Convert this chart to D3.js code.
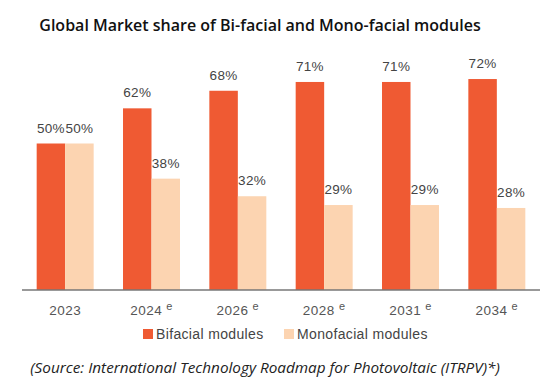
<!DOCTYPE html>
<html>
<head>
<meta charset="utf-8">
<script src="https://cdn.jsdelivr.net/npm/d3@7"></script>
<style>
  body { margin: 0; background: #fff; }
  svg { display: block; }
</style>
</head>
<body>
<div id="chart"></div>
<script>
const years = ['2023', '2024', '2026', '2028', '2031', '2034'];
const estimated = [false, true, true, true, true, true];
const bifacial = [50, 62, 68, 71, 71, 72];
const monofacial = [50, 38, 32, 29, 29, 28];
const seriesNames = ['Bifacial modules', 'Monofacial modules'];
const colors = ['#ef5a33', '#fcd4b1'];

const width = 559, height = 385;
const svg = d3.select('#chart').append('svg')
  .attr('width', width).attr('height', height);

svg.append('text')
  .attr('x', 260).attr('y', 31)
  .attr('text-anchor', 'middle')
  .attr('font-family', 'Open Sans, sans-serif')
  .attr('font-weight', 600)
  .attr('font-size', 16)
  .attr('fill', '#111')
  .text('Global Market share of Bi-facial and Mono-facial modules');

const x0 = d3.scaleBand().domain(years).range([22, 540])
  .paddingInner(0.34).paddingOuter(0.17);
const x1 = d3.scaleBand().domain(seriesNames).range([0, x0.bandwidth()]);
const y = d3.scaleLinear().domain([0, 100]).range([290, -3]);

const rows = years.map((yr, i) => ({year: yr, values: [bifacial[i], monofacial[i]]}));

const groups = svg.append('g').selectAll('g').data(rows).join('g')
  .attr('transform', d => `translate(${x0(d.year)},0)`);

groups.selectAll('rect').data(d => d.values.map((v, k) => ({k, v}))).join('rect')
  .attr('x', d => x1(seriesNames[d.k]))
  .attr('y', d => y(d.v))
  .attr('width', x1.bandwidth())
  .attr('height', d => y(0) - y(d.v))
  .attr('fill', d => colors[d.k]);

groups.selectAll('text.val').data(d => d.values.map((v, k) => ({k, v}))).join('text')
  .attr('class', 'val')
  .attr('x', d => x1(seriesNames[d.k]) + x1.bandwidth() / 2)
  .attr('y', d => y(d.v) - 11)
  .attr('text-anchor', 'middle')
  .attr('font-family', 'Liberation Sans, Arial, sans-serif')
  .attr('font-size', 13.5)
  .attr('letter-spacing', 0.3)
  .attr('fill', '#444')
  .text(d => d.v + '%');

// baseline
svg.append('line')
  .attr('x1', 22).attr('x2', 540)
  .attr('y1', y(0)).attr('y2', y(0))
  .attr('stroke', '#777').attr('stroke-width', 1.5);

// x labels
const xl = svg.append('g').selectAll('text').data(years).join('text')
  .attr('x', d => x0(d) + x0.bandwidth() / 2)
  .attr('y', 315)
  .attr('text-anchor', 'middle')
  .attr('font-family', 'Liberation Sans, Arial, sans-serif')
  .attr('font-size', 13.5)
  .attr('letter-spacing', 0.5)
  .attr('fill', '#555');
xl.append('tspan').text(d => d);
xl.filter((d, i) => estimated[i]).append('tspan')
  .attr('dx', 4).attr('dy', -5).attr('font-size', 11).text('e');

// legend
const legendX = [143, 284];
const lg = svg.append('g').selectAll('g').data(seriesNames).join('g')
  .attr('transform', (d, i) => `translate(${legendX[i]},329)`);
lg.append('rect').attr('width', 10).attr('height', 10)
  .attr('fill', (d, i) => colors[i]);
lg.append('text')
  .attr('x', 13).attr('y', 10)
  .attr('font-family', 'Liberation Sans, Arial, sans-serif')
  .attr('font-size', 14)
  .attr('letter-spacing', 0.35)
  .attr('fill', '#444')
  .text(d => d);

svg.append('text')
  .attr('x', 265).attr('y', 373)
  .attr('text-anchor', 'middle')
  .attr('font-family', 'Open Sans, sans-serif')
  .attr('font-style', 'italic')
  .attr('font-size', 15.3)
  .attr('fill', '#222')
  .text('(Source: International Technology Roadmap for Photovoltaic (ITRPV)*)');
</script>
</body>
</html>
